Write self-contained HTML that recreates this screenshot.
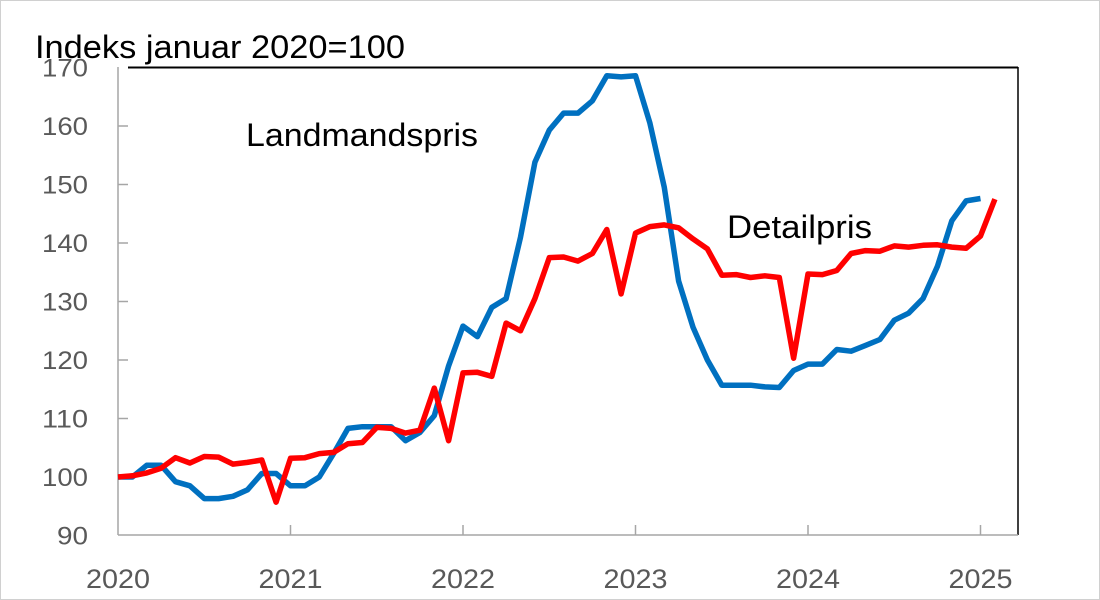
<!DOCTYPE html>
<html><head><meta charset="utf-8"><style>
html,body{margin:0;padding:0;background:#fff}
svg{display:block}
text{font-family:"Liberation Sans",sans-serif}
</style></head><body>
<svg id="s" width="1100" height="600" viewBox="0 0 1100 600" xmlns="http://www.w3.org/2000/svg">
<rect x="0.5" y="0.5" width="1099" height="599" fill="#fff" stroke="#d0d0d0"/>
<text x="35" y="58" font-size="32" fill="#000" textLength="370" lengthAdjust="spacingAndGlyphs">Indeks januar 2020=100</text>
<line x1="128" y1="67.5" x2="1018" y2="67.5" stroke="#000" stroke-width="2"/>
<line x1="1018" y1="67" x2="1018" y2="535" stroke="#000" stroke-width="1.5"/>
<line x1="118" y1="67" x2="118" y2="535" stroke="#a6a6a6" stroke-width="1.5"/>
<line x1="118" y1="535" x2="1018" y2="535" stroke="#a6a6a6" stroke-width="1.5"/>
<g id="ax" fill="#595959" font-size="25"></g>
<text x="246" y="146" font-size="32" fill="#000" textLength="232" lengthAdjust="spacingAndGlyphs">Landmandspris</text>
<text x="727" y="238" font-size="32" fill="#000" textLength="145" lengthAdjust="spacingAndGlyphs">Detailpris</text>
<polyline id="b" fill="none" stroke="#0070c0" stroke-width="5.5" stroke-linejoin="round"/>
<polyline id="r" fill="none" stroke="#ff0000" stroke-width="5.5" stroke-linejoin="round"/>
</svg>
<script>
var Y=function(v){return 535.5-(v-90)*5.85};var X=function(i){return 118+i*14.375};
var ax=document.getElementById('ax'),h='';
for(var v=90;v<=170;v+=10){var y=Y(v);var tl=v<100?31:46;h+='<text x="88" y="'+(y+9)+'" text-anchor="end" textLength="'+tl+'" lengthAdjust="spacingAndGlyphs">'+v+'</text>';if(v>90&&v<170)h+='<line x1="118" y1="'+y+'" x2="128" y2="'+y+'" stroke="#a6a6a6" stroke-width="1.5"/>';}
for(var k=0;k<=5;k++){var x=118+k*172.5;h+='<text x="'+x+'" y="588" text-anchor="middle" font-size="27" textLength="64" lengthAdjust="spacingAndGlyphs">'+(2020+k)+'</text>';if(k>0)h+='<line x1="'+x+'" y1="525" x2="'+x+'" y2="535" stroke="#a6a6a6" stroke-width="1.5"/>';}
ax.innerHTML=h;
var b=[100,100,102,102,99.2,98.5,96.3,96.3,96.7,97.8,100.6,100.6,98.5,98.5,100,104,108.3,108.6,108.6,108.6,106.2,107.6,110.5,119,125.8,124,129,130.5,141,153.8,159.3,162.2,162.2,164.3,168.6,168.4,168.6,160.5,149.5,133.5,125.6,120,115.7,115.7,115.7,115.4,115.3,118.2,119.3,119.3,121.8,121.5,122.5,123.5,126.8,128,130.5,136,143.8,147.2,147.6];
var r=[100,100.2,100.7,101.5,103.3,102.4,103.5,103.4,102.2,102.5,102.9,95.7,103.2,103.3,104,104.2,105.7,105.9,108.5,108.3,107.5,108,115.2,106.2,117.8,117.9,117.2,126.3,125,130.5,137.5,137.6,136.9,138.2,142.3,131.3,141.7,142.8,143.1,142.6,140.7,139,134.5,134.6,134.1,134.4,134.1,120.3,134.7,134.6,135.3,138.2,138.7,138.6,139.5,139.3,139.6,139.7,139.3,139.1,141.2,147.5];
function pts(a){return a.map(function(v,i){return X(i).toFixed(1)+','+Y(v).toFixed(1)}).join(' ')}
document.getElementById('b').setAttribute('points',pts(b));
document.getElementById('r').setAttribute('points',pts(r));
</script>
</body></html>
